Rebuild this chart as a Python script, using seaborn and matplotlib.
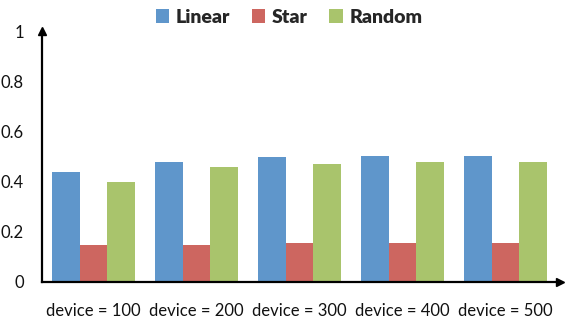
import matplotlib
matplotlib.use("Agg")
import matplotlib.pyplot as plt
import seaborn as sns
import pandas as pd

categories = ["device = 100", "device = 200", "device = 300", "device = 400", "device = 500"]
series_names = ["Linear", "Star", "Random"]
linear = [0.44, 0.478, 0.498, 0.502, 0.502]
star = [0.149, 0.149, 0.155, 0.155, 0.155]
random_ = [0.40, 0.458, 0.47, 0.478, 0.478]
yticks = [0, 0.2, 0.4, 0.6, 0.8, 1]
ytick_labels = ["0", "0.2", "0.4", "0.6", "0.8", "1"]
colors = ["#5F96CB", "#CD6660", "#A9C46C"]

rows = []
for name, vals in zip(series_names, [linear, star, random_]):
    for c, v in zip(categories, vals):
        rows.append({"category": c, "topology": name, "value": v})
df = pd.DataFrame(rows)

sns.set_style("white")
plt.rcParams["font.family"] = ["Lato", "DejaVu Sans"]

fig = plt.figure(figsize=(5.7, 3.2), dpi=100)
ax = fig.add_axes([42 / 570, 1 - 282 / 320, (557 - 42) / 570, (282 - 31) / 320])

sns.barplot(data=df, x="category", y="value", hue="topology", order=categories,
            hue_order=series_names, palette=colors, width=0.8, saturation=1,
            linewidth=0, ax=ax)

ax.set_xlim(-0.5, 4.5)
ax.set_ylim(0, 1)
ax.set_yticks(yticks)
ax.set_yticklabels(ytick_labels)
ax.set_xlabel("")
ax.set_ylabel("")
ax.tick_params(axis="y", direction="out", length=3, width=1, labelsize=12, pad=10)
ax.tick_params(axis="x", length=0, labelsize=12, pad=15)
for lbl in ax.get_xticklabels() + ax.get_yticklabels():
    lbl.set_color("#111111")

for s in ["top", "right"]:
    ax.spines[s].set_visible(False)
for s in ["left", "bottom"]:
    ax.spines[s].set_color("black")
    ax.spines[s].set_linewidth(1.6)

# arrow heads at the ends of both axes
ax.plot(1.005, 0, ">", color="black", markersize=6, transform=ax.transAxes, clip_on=False)
ax.plot(0, 1.0, "^", color="black", markersize=6, transform=ax.transAxes, clip_on=False)

leg = ax.legend(loc="lower center", bbox_to_anchor=(0.48, 0.985), ncol=3, frameon=False,
                handlelength=0.7, handleheight=0.7, handletextpad=0.35, columnspacing=1.1,
                borderaxespad=0.05, prop={"weight": "heavy", "size": 14})

fig.savefig("out.png", dpi=100)
